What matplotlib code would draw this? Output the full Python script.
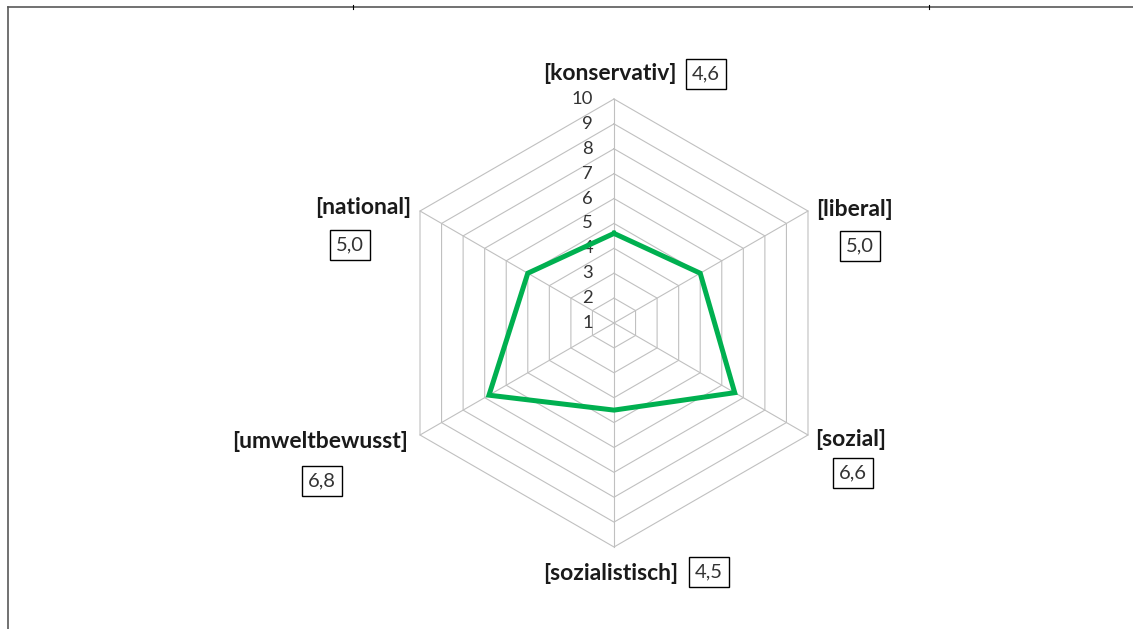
import numpy as np
import matplotlib.pyplot as plt
from matplotlib.lines import Line2D

# data
categories = ["[konservativ]", "[liberal]", "[sozial]",
              "[sozialistisch]", "[umweltbewusst]", "[national]"]
values = [4.6, 5.0, 6.6, 4.5, 6.8, 5.0]
value_labels = ["4,6", "5,0", "6,6", "4,5", "6,8", "5,0"]
ticks = list(range(1, 11))
r_min, r_max = 1, 10

W, H, DPI = 1133, 629, 100
cx, cy = 614, 323            # chart centre in pixels (from top-left)
px_per_unit = 224 / (r_max - r_min)

plt.rcParams["font.family"] = ["Lato", "DejaVu Sans"]

fig = plt.figure(figsize=(W / DPI, H / DPI), dpi=DPI)
ax = fig.add_axes([0, 0, 1, 1])
ax.set_xlim(-cx / px_per_unit, (W - cx) / px_per_unit)
ax.set_ylim(-(H - cy) / px_per_unit, cy / px_per_unit)
ax.set_axis_off()

n = len(categories)
angles = np.pi / 2 - np.arange(n) * 2 * np.pi / n


def to_xy(r, a):
    return (r - r_min) * np.cos(a), (r - r_min) * np.sin(a)


grid_color = "#c0c0c0"
# rings
for t in ticks[1:]:
    xs, ys = to_xy(np.full(n + 1, t), np.append(angles, angles[0]))
    ax.plot(xs, ys, color=grid_color, lw=0.8, zorder=1)
# spokes
for a in angles:
    xs, ys = to_xy(np.array([r_min, r_max]), np.array([a, a]))
    ax.plot(xs, ys, color=grid_color, lw=0.8, zorder=1)

# tick labels on the top axis
for t in ticks:
    x, y = to_xy(t, np.pi / 2)
    ax.annotate(str(t), (x, y), xytext=(-21, 0), textcoords="offset pixels",
                ha="right", va="center", fontsize=13.3, color="#333333")

# data polygon
vals = np.append(values, values[0])
xs, ys = to_xy(vals, np.append(angles, angles[0]))
ax.plot(xs, ys, color="#00b050", lw=3.6, solid_joinstyle="miter", zorder=3)

# category labels and value boxes (pixel offsets from the outer vertex)
label_off = [(-4, 25), (47, 2), (43, -5), (-3, -26), (-100, -6), (-57, 3)]
box_off = [(92, 25), (52, -35), (45, -38), (95, -25), (-98, -46), (-70, -34)]
for i, a in enumerate(angles):
    vx, vy = to_xy(r_max, a)
    ax.annotate(categories[i], (vx, vy), xytext=label_off[i],
                textcoords="offset pixels", ha="center", va="center",
                fontsize=16.5, fontweight="bold", color="#1a1a1a")
    ax.annotate(value_labels[i], (vx, vy), xytext=box_off[i],
                textcoords="offset pixels", ha="center", va="center",
                fontsize=14.5, color="#333333",
                bbox=dict(boxstyle="square,pad=0.3", fc="white",
                          ec="black", lw=1.0))

# chart frame (cropped at right and bottom)
frame_color = "#595959"
fig.add_artist(Line2D([8 / W, 8 / W], [0, 1 - 7 / H], color=frame_color,
                      lw=1.2, transform=fig.transFigure))
fig.add_artist(Line2D([8 / W, 1], [1 - 7 / H, 1 - 7 / H], color=frame_color,
                      lw=1.2, transform=fig.transFigure))
for mx in (353, 929):
    fig.add_artist(Line2D([mx / W, mx / W], [1 - 5 / H, 1 - 9 / H],
                          color="black", lw=0.8, transform=fig.transFigure))

fig.savefig("out.png", dpi=DPI)
